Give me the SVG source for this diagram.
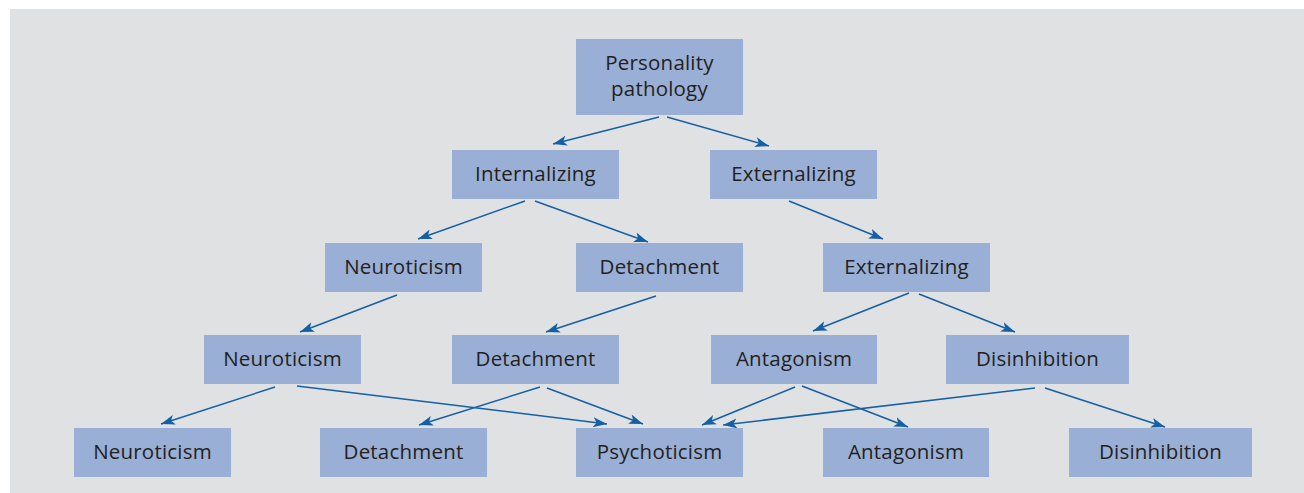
<svg xmlns="http://www.w3.org/2000/svg" width="1304" height="493" viewBox="0 0 1304 493">
<defs>
<style>
.bg{fill:#e0e1e3}
.box{fill:#9aafd5}
.lbl{font-family:"Open Sans","Noto Sans","Liberation Sans",sans-serif;font-size:20.5px;letter-spacing:0.2px;fill:#231f20;text-anchor:middle}
.edge{stroke:#1460a6;stroke-width:1.5;fill:none;marker-end:url(#ah)}
</style>
<marker id="ah" markerUnits="userSpaceOnUse" markerWidth="15" markerHeight="11" refX="14" refY="5.5" orient="auto">
<path d="M0,0.5 L14,5.5 L0,10.5 L3.5,5.5 Z" fill="#1460a6"/>
</marker>
</defs>
<rect class="bg" x="10" y="9" width="1294" height="484"/>
<g id="connectors">
<line class="edge" x1="659" y1="117" x2="553" y2="144"/>
<line class="edge" x1="667" y1="117" x2="769" y2="146"/>
<line class="edge" x1="525" y1="201" x2="418" y2="239"/>
<line class="edge" x1="535" y1="201" x2="648" y2="242"/>
<line class="edge" x1="789" y1="201" x2="883" y2="239"/>
<line class="edge" x1="397" y1="295" x2="300" y2="332"/>
<line class="edge" x1="656" y1="296" x2="546" y2="332"/>
<line class="edge" x1="909" y1="293" x2="813" y2="331"/>
<line class="edge" x1="919" y1="294" x2="1015" y2="332"/>
<line class="edge" x1="275" y1="387" x2="161" y2="424"/>
<line class="edge" x1="297" y1="386" x2="607" y2="424"/>
<line class="edge" x1="540" y1="387" x2="419" y2="425"/>
<line class="edge" x1="547" y1="388" x2="643" y2="424"/>
<line class="edge" x1="795" y1="387" x2="702" y2="425"/>
<line class="edge" x1="802" y1="386" x2="908" y2="427"/>
<line class="edge" x1="1035" y1="388" x2="723" y2="425"/>
<line class="edge" x1="1045" y1="388" x2="1165" y2="427"/>
</g>
<g id="personality"><rect class="box" x="576" y="39" width="167" height="76"/><text class="lbl" x="659.5" y="70">Personality</text><text class="lbl" x="659.5" y="96">pathology</text></g>
<g id="internalizing"><rect class="box" x="452" y="150" width="167" height="49"/><text class="lbl" x="535.5" y="181">Internalizing</text></g>
<g id="externalizing1"><rect class="box" x="710" y="150" width="167" height="49"/><text class="lbl" x="793.5" y="181">Externalizing</text></g>
<g id="neuroticism2"><rect class="box" x="325" y="243" width="157" height="49"/><text class="lbl" x="403.5" y="274">Neuroticism</text></g>
<g id="detachment2"><rect class="box" x="576" y="243" width="167" height="49"/><text class="lbl" x="659.5" y="274">Detachment</text></g>
<g id="externalizing2"><rect class="box" x="823" y="243" width="167" height="49"/><text class="lbl" x="906.5" y="274">Externalizing</text></g>
<g id="neuroticism3"><rect class="box" x="204" y="335" width="157" height="49"/><text class="lbl" x="282.5" y="366">Neuroticism</text></g>
<g id="detachment3"><rect class="box" x="452" y="335" width="167" height="49"/><text class="lbl" x="535.5" y="366">Detachment</text></g>
<g id="antagonism3"><rect class="box" x="711" y="335" width="166" height="49"/><text class="lbl" x="794" y="366">Antagonism</text></g>
<g id="disinhibition3"><rect class="box" x="946" y="335" width="183" height="49"/><text class="lbl" x="1037.5" y="366">Disinhibition</text></g>
<g id="neuroticism4"><rect class="box" x="74" y="428" width="157" height="49"/><text class="lbl" x="152.5" y="459">Neuroticism</text></g>
<g id="detachment4"><rect class="box" x="320" y="428" width="167" height="49"/><text class="lbl" x="403.5" y="459">Detachment</text></g>
<g id="psychoticism"><rect class="box" x="576" y="428" width="167" height="49"/><text class="lbl" x="659.5" y="459">Psychoticism</text></g>
<g id="antagonism4"><rect class="box" x="823" y="428" width="166" height="49"/><text class="lbl" x="906" y="459">Antagonism</text></g>
<g id="disinhibition4"><rect class="box" x="1069" y="428" width="183" height="49"/><text class="lbl" x="1160.5" y="459">Disinhibition</text></g>
</svg>
